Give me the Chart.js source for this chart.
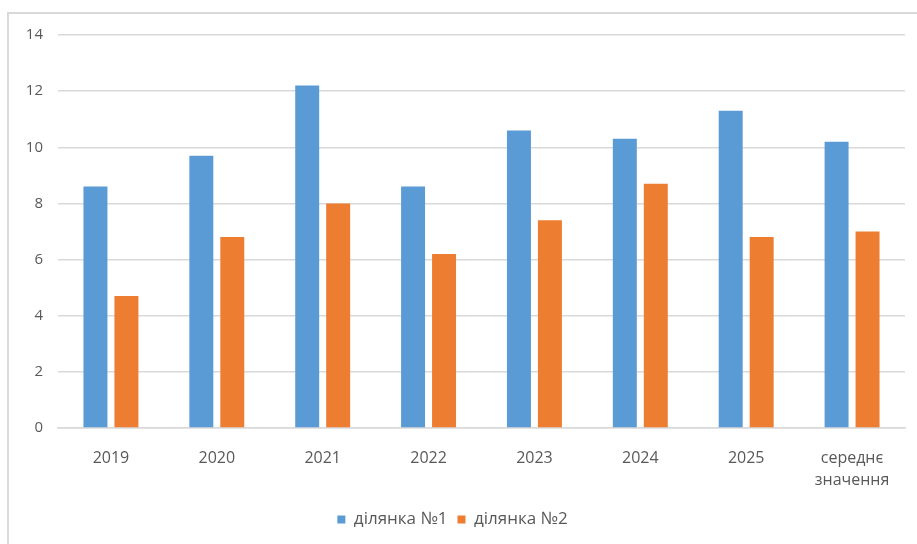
<!DOCTYPE html>
<html>
<head>
<meta charset="utf-8">
<script src="https://cdn.jsdelivr.net/npm/chart.js@4/dist/chart.umd.min.js"></script>
<style>
  html, body { margin: 0; padding: 0; background: #fff; }
  #wrap { position: relative; width: 917px; height: 544px; overflow: hidden; }
  #frame { position: absolute; left: 7px; top: 12px; width: 940px; height: 560px;
           border: 2px solid #d9d9d9; box-sizing: border-box; }
  canvas { position: absolute; left: 0; top: 0; }
</style>
</head>
<body>
<div id="wrap">
  <div id="frame"></div>
  <canvas id="chart" width="917" height="544"></canvas>
</div>
<script>
const categories = ['2019', '2020', '2021', '2022', '2023', '2024', '2025', ['середнє', 'значення']];
const plot1 = [8.6, 9.7, 12.2, 8.6, 10.6, 10.3, 11.3, 10.2];
const plot2 = [4.7, 6.8, 8.0, 6.2, 7.4, 8.7, 6.8, 7.0];
const yTicks = [0, 2, 4, 6, 8, 10, 12, 14];

const ctx = document.getElementById('chart').getContext('2d');
Chart.defaults.font.family = "'Open Sans', sans-serif";
Chart.defaults.color = '#595959';

new Chart(ctx, {
    type: 'bar',
    data: {
        labels: categories,
        datasets: [
            { label: 'ділянка №1', data: plot1, backgroundColor: '#5b9bd5' },
            { label: 'ділянка №2', data: plot2, backgroundColor: '#ed7d31' }
        ]
    },
    options: {
        responsive: false,
        animation: false,
        categoryPercentage: 0.585,
        barPercentage: 0.774,
        layout: { padding: { top: 35, right: 12, left: 0, bottom: 6 } },
        scales: {
            x: {
                grid: { display: false },
                border: { color: '#d9d9d9', width: 1.5 },
                ticks: { font: { size: 16, lineHeight: 1.4 }, padding: 11, maxRotation: 0, autoSkip: false },
                afterFit: function(scale) { scale.height = 73; }
            },
            y: {
                min: 0,
                max: 14,
                afterBuildTicks: function(scale) { scale.ticks = yTicks.map(v => ({ value: v })); },
                grid: { color: '#d9d9d9', lineWidth: 1.5, drawTicks: false },
                border: { display: false },
                ticks: { font: { size: 15 }, padding: 15 },
                afterFit: function(scale) { scale.width = 58; }
            }
        },
        plugins: {
            legend: {
                position: 'bottom',
                labels: { boxWidth: 8, boxHeight: 8, padding: 10, font: { size: 17 } }
            },
            tooltip: { enabled: false }
        }
    }
});
</script>
</body>
</html>
